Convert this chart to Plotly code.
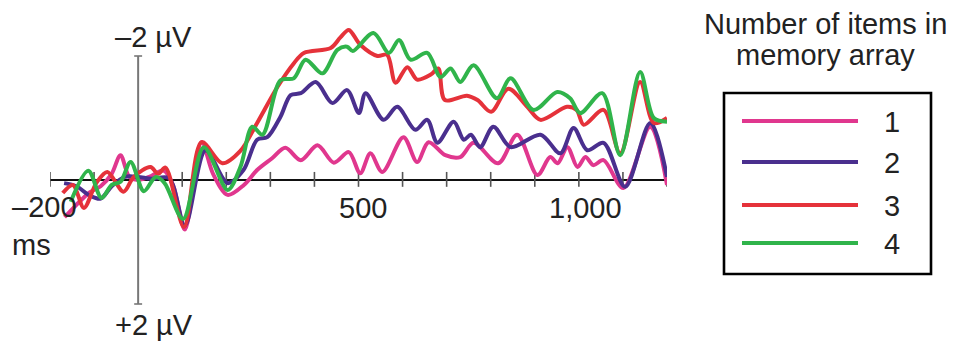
import plotly.graph_objects as go

# ---------------- data (time in ms, amplitude in microvolts; negative plotted up) -------------
t1 = [-167, -140, -110, -85, -60, -40, -20, 0, 25, 58, 80, 106, 144, 170, 203, 240, 270, 304, 334,
      369, 407, 444, 478, 504, 527, 554, 602, 633, 659, 697, 731, 761, 817, 860, 906, 935, 952,
      974, 997, 1015, 1033, 1056, 1101, 1162, 1200]
v1 = [0.6, 0.4, 0.2, 0.1, -0.1, -0.4, -0.05, 0.0, -0.05, -0.15, 0.1, 0.8, -0.61, -0.1, 0.24, 0.08,
      -0.16, -0.35, -0.52, -0.32, -0.56, -0.28, -0.45, -0.11, -0.43, -0.13, -0.69, -0.29, -0.61,
      -0.40, -0.37, -0.6, -0.27, -0.73, -0.08, -0.37, -0.27, -0.53, -0.21, -0.37, -0.24, -0.32,
      0.13, -0.86, 0.08]

t2 = [-168, -140, -110, -85, -60, -30, 0, 30, 70, 106, 153, 203, 239, 270, 293, 323, 346, 369, 403,
      441, 474, 501, 516, 557, 588, 629, 656, 679, 716, 739, 755, 776, 806, 845, 913, 958, 988,
      1019, 1056, 1105, 1162, 1200]
v2 = [0.05, 0.1, 0.25, 0.3, 0.1, -0.05, -0.05, -0.02, -0.03, 0.73, -0.48, 0.05, -0.16, -0.65,
      -0.69, -1.02, -1.37, -1.4, -1.58, -1.24, -1.45, -1.08, -1.4, -0.97, -1.18, -0.81, -0.97,
      -0.6, -0.94, -0.65, -0.73, -0.53, -0.86, -0.53, -0.73, -0.43, -0.84, -0.48, -0.6, 0.11,
      -0.92, -0.05]

t3 = [-171, -148, -123, -95, -70, -33, -10, 28, 45, 62, 104, 144, 191, 232, 270, 316, 353, 376,
      437, 459, 478, 504, 543, 565, 584, 611, 633, 664, 681, 696, 746, 770, 801, 840, 883, 913,
      973, 995, 1011, 1056, 1094, 1139, 1170, 1200]
v3 = [0.21, 0.08, 0.45, 0.05, -0.13, 0.19, -0.05, -0.21, -0.1, -0.2, 0.76, -0.61, -0.27, -0.47,
      -0.92, -1.5, -1.88, -2.05, -2.13, -2.3, -2.42, -2.18, -2.0, -2.02, -1.57, -1.82, -1.62,
      -1.7, -1.8, -1.29, -1.36, -1.29, -1.1, -1.47, -1.18, -0.97, -1.18, -1.13, -0.89, -1.13,
      -0.43, -1.58, -0.92, -1.0]

t4 = [-153, -113, -83, -60, -40, -17, 13, 40, 60, 102, 149, 203, 232, 259, 282, 323, 353, 380,
      418, 452, 474, 487, 534, 569, 592, 618, 656, 686, 709, 731, 761, 814, 845, 897, 951, 980,
      1003, 1053, 1094, 1139, 1170, 1200]
v4 = [0.35, -0.15, 0.29, 0.08, 0.03, -0.29, 0.18, -0.05, 0.05, 0.63, -0.53, 0.16, -0.21, -0.86,
      -0.73, -1.61, -1.64, -1.94, -1.72, -2.1, -2.15, -2.08, -2.37, -2.05, -2.26, -1.94, -2.05,
      -1.66, -1.8, -1.58, -1.85, -1.32, -1.64, -1.13, -1.42, -1.32, -1.08, -1.4, -0.40, -1.74,
      -1.0, -0.94]

series_names = ["1", "2", "3", "4"]
series_colors = ["#e0378e", "#4a2f8e", "#e5323a", "#30b44b"]

x_tick_ms = [-200, -100, 100, 200, 300, 400, 500, 600, 700, 800, 900, 1000, 1100, 1200]
x_tick_labels = {500: "500", 1000: "1,000"}
x_start_label = "–200<br>ms"
y_scale_uv = [-2, 2]
y_scale_labels = ["–2 µV", "+2 µV"]
legend_title = ["Number of items in", "memory array"]

# ---------------- layout geometry ----------------
W, H = 958, 343
ML, MR = 50, 291
PW = W - ML - MR
FONT = "Liberation Sans, Arial, Helvetica, sans-serif"
FS = 29
TXT = dict(size=FS, color="#222222", family=FONT)


def px(x):
    return (x - ML) / PW


def py(y):
    return 1 - y / H


fig = go.Figure()
for t, v, name, col in zip([t1, t2, t3, t4], [v1, v2, v3, v4], series_names, series_colors):
    fig.add_trace(go.Scatter(x=t, y=v, mode="lines", name=name,
                             line=dict(color=col, width=4, shape="spline", smoothing=0.9),
                             showlegend=False, hoverinfo="skip"))

shapes = []
# horizontal (time) axis
shapes.append(dict(type="line", xref="x", yref="y", x0=-200, x1=1200, y0=0, y1=0,
                   line=dict(color="#111111", width=2), layer="below"))
for tk in x_tick_ms:
    shapes.append(dict(type="line", xref="x", yref="y", x0=tk, x1=tk, y0=-0.13, y1=0.11,
                       line=dict(color="#555555", width=1.6), layer="below"))
# vertical (amplitude) scale bar
shapes.append(dict(type="line", xref="x", yref="y", x0=0, x1=0, y0=y_scale_uv[0], y1=y_scale_uv[1],
                   line=dict(color="#777777", width=2), layer="below"))
for yv in y_scale_uv:
    shapes.append(dict(type="line", xref="x", yref="y", x0=-9, x1=9, y0=yv, y1=yv,
                       line=dict(color="#777777", width=1.6), layer="below"))

# legend box and sample lines
shapes.append(dict(type="rect", xref="paper", yref="paper", x0=px(724), x1=px(931), y0=py(93), y1=py(274),
                   line=dict(color="#000000", width=2.6)))
leg_y = [121, 162, 205, 243]
annotations = []
for name, col, ly in zip(series_names, series_colors, leg_y):
    shapes.append(dict(type="line", xref="paper", yref="paper", x0=px(742), x1=px(858), y0=py(ly), y1=py(ly),
                       line=dict(color=col, width=4)))
    annotations.append(dict(xref="paper", yref="paper", x=px(892), y=py(ly + 1), text=name, showarrow=False,
                            xanchor="center", yanchor="middle", font=TXT))

annotations.append(dict(xref="paper", yref="paper", x=px(825), y=py(24), text=legend_title[0], showarrow=False,
                        xanchor="center", yanchor="middle", font=TXT))
annotations.append(dict(xref="paper", yref="paper", x=px(825), y=py(55), text=legend_title[1], showarrow=False,
                        xanchor="center", yanchor="middle", font=TXT))

# tick labels
for tk, lab in x_tick_labels.items():
    annotations.append(dict(xref="x", yref="paper", x=tk, y=py(208), text=lab, showarrow=False,
                            xshift=7 if tk == 1000 else 4,
                            xanchor="center", yanchor="middle", font=TXT))
annotations.append(dict(xref="paper", yref="paper", x=px(10), y=py(226), text=x_start_label, showarrow=False,
                        xanchor="left", yanchor="middle", align="left", font=TXT))
annotations.append(dict(xref="paper", yref="paper", x=px(153), y=py(37), text=y_scale_labels[0], showarrow=False,
                        xanchor="center", yanchor="middle", font=TXT))
annotations.append(dict(xref="paper", yref="paper", x=px(154), y=py(325), text=y_scale_labels[1], showarrow=False,
                        xanchor="center", yanchor="middle", font=TXT))

y_top = (0 - 180) / 62
y_bot = (H - 180) / 62

fig.update_layout(
    width=W, height=H,
    margin=dict(l=ML, r=MR, t=0, b=0, pad=0),
    paper_bgcolor="white", plot_bgcolor="white",
    xaxis=dict(range=[-200, 1200], visible=False, fixedrange=True),
    yaxis=dict(range=[y_bot, y_top], visible=False, fixedrange=True),
    shapes=shapes, annotations=annotations, showlegend=False,
)

fig.write_html("out.html")
